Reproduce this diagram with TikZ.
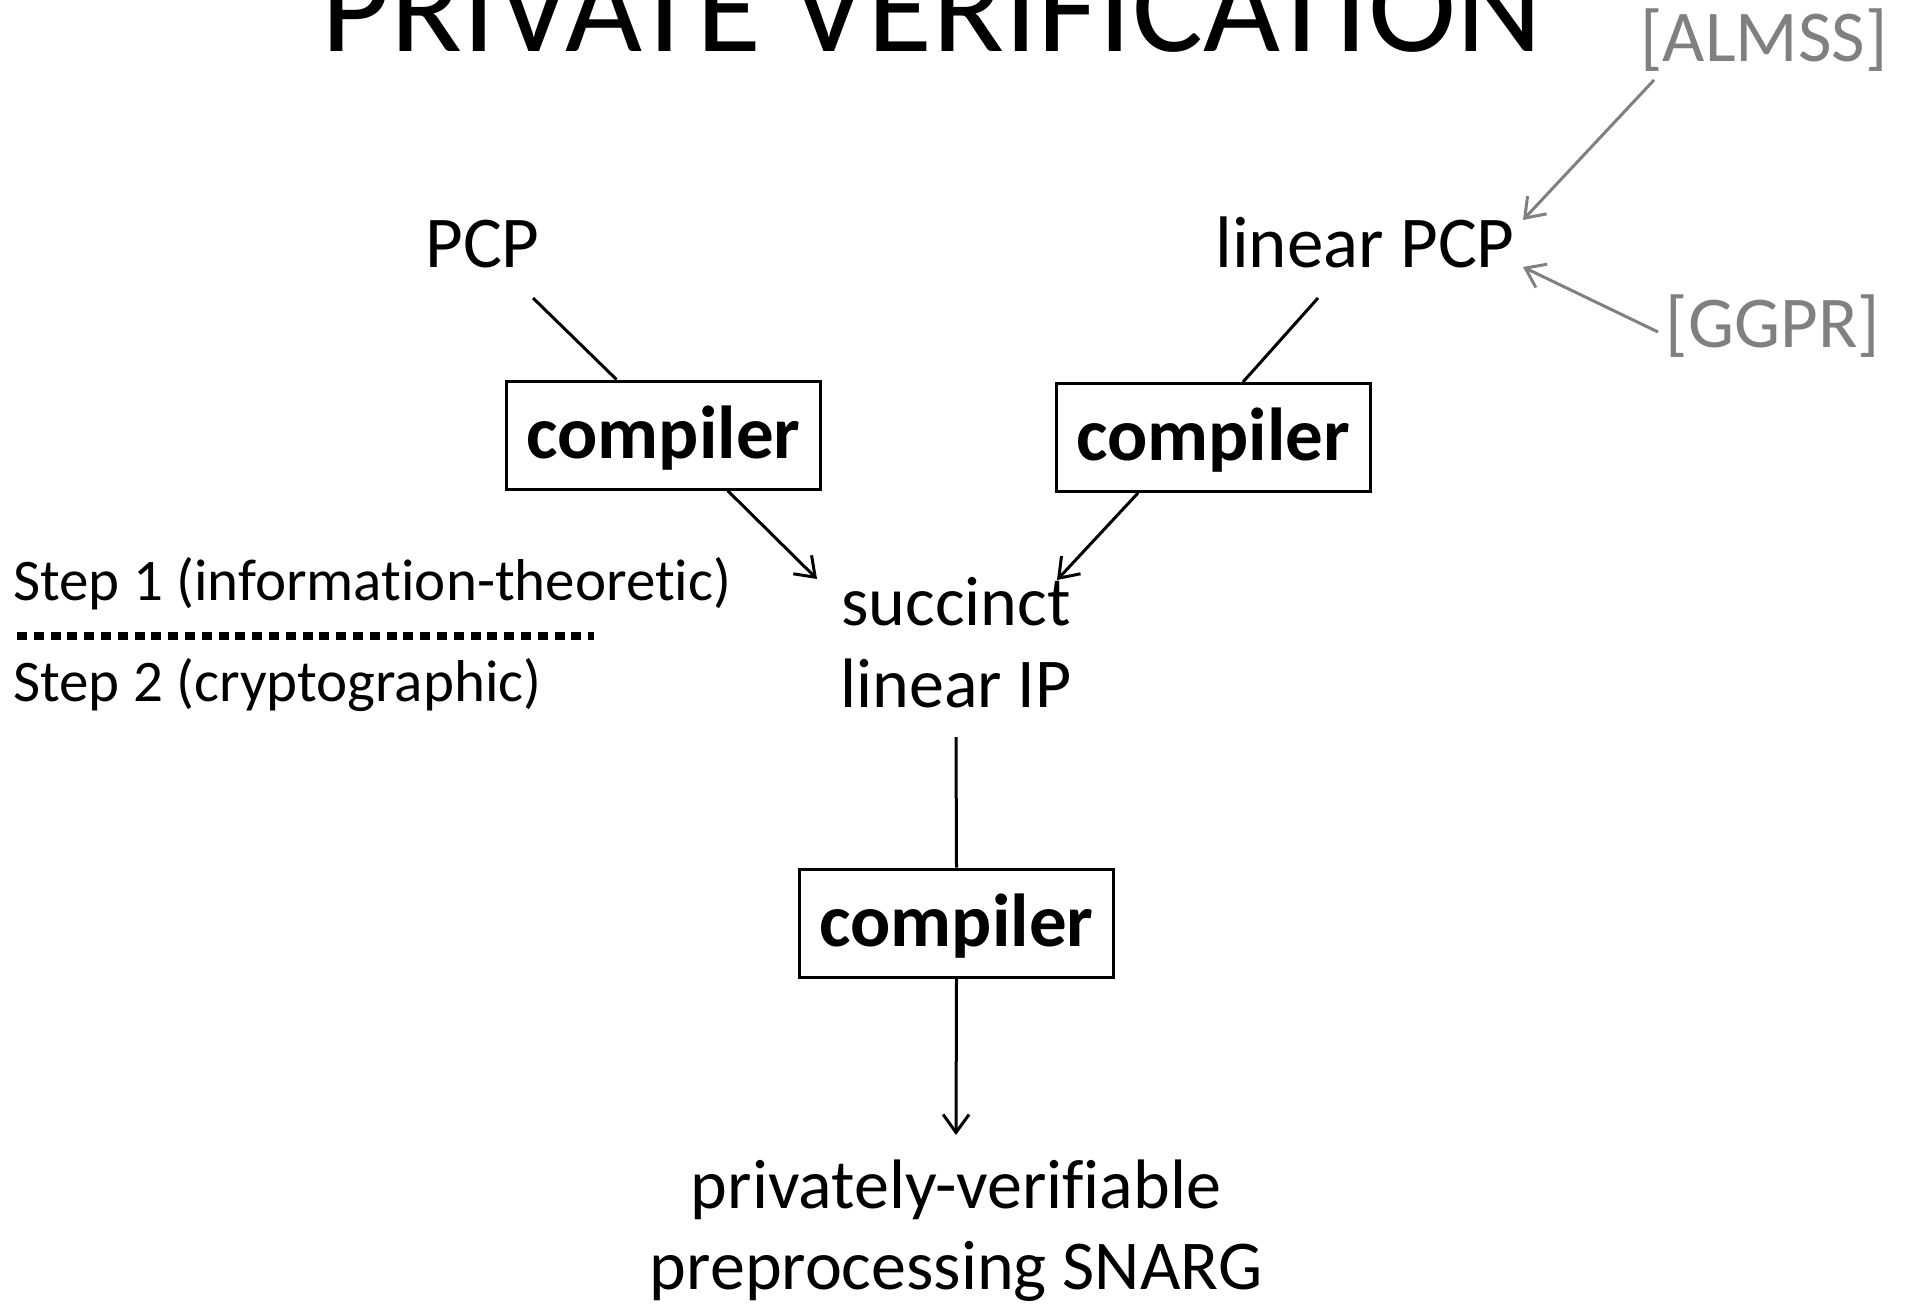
\documentclass[tikz,border=0pt]{standalone}
\usepackage{fontspec}
\setmainfont{Carlito}[Ligatures=NoCommon]
\usetikzlibrary{arrows.meta}
\definecolor{refgray}{RGB}{128,128,128}
\begin{document}
\begin{tikzpicture}[x=1pt,y=-1pt,
  txt/.style={inner sep=0pt, anchor=base, font=\fontsize{70}{84}\selectfont},
  bigtxt/.style={txt, font=\fontsize{73}{88}\selectfont},
  titletxt/.style={inner sep=0pt, anchor=base, font=\fontsize{133}{160}\selectfont},
  steptxt/.style={inner sep=0pt, anchor=base west, font=\fontsize{59}{70}\selectfont},
  reftxt/.style={bigtxt, text=refgray},
  compbox/.style={draw, line width=3pt, minimum width=314pt, minimum height=108pt,
    inner sep=0pt, text height=56pt, text depth=10pt,
    font=\fontsize{75}{90}\bfseries\selectfont},
  link/.style={line width=3pt},
  arr/.style={line width=3pt, -{Straight Barb[length=18pt,width=26pt]}},
  refarr/.style={arr, draw=refgray},
  sepline/.style={line width=8pt, dash pattern=on 10pt off 6.8pt}
]
\useasboundingbox (0,0) rectangle (1910,1305);

% heading and references
\node[titletxt] (title) at (932,52) {PRIVATE VERIFICATION};
\node[reftxt] (almss) at (1764,62) {[ALMSS]};
\node[reftxt] (ggpr) at (1773,347) {[GGPR]};

% sources
\node[bigtxt] (pcp) at (482.5,268) {PCP};
\node[bigtxt] (lpcp) at (1365,268) {linear PCP};

% compilers
\node[compbox] (box1) at (663.5,435) {compiler};
\node[compbox] (box2) at (1213,437.5) {compiler};
\node[compbox] (box3) at (956.5,923) {compiler};

% intermediate and final objects
\node[txt] (s1) at (956,625) {succinct};
\node[txt] (s2) at (956,707) {linear IP};
\node[txt] (out1) at (956,1208) {privately-verifiable};
\node[txt] (out2) at (956,1289) {preprocessing SNARG};

% step labels and separator
\node[steptxt] (step1) at (13,600) {Step 1 (information-theoretic)};
\node[steptxt] (step2) at (13,701) {Step 2 (cryptographic)};
\coordinate (sepL) at (17,636);
\coordinate (sepR) at (594,636);
\draw[sepline] (sepL) -- (sepR);

% connectors
\draw[link] ([xshift=50.5pt,yshift=-30pt]pcp.base) -- ([xshift=-47pt]box1.north);
\draw[arr] ([xshift=64pt]box1.south) -- ([xshift=-139pt,yshift=46pt]s1.base);
\draw[link] ([xshift=-47pt,yshift=-30pt]lpcp.base) -- ([xshift=30pt]box2.north);
\draw[arr] ([xshift=-75pt]box2.south) -- ([xshift=101pt,yshift=45pt]s1.base);
\draw[link] ([yshift=-30pt]s2.base) -- (box3.north);
\draw[arr] (box3.south) -- ([yshift=73pt]out1.base);

% references
\draw[refarr] ([xshift=-110pt,yshift=-18pt]almss.base) -- ([xshift=158pt,yshift=48pt]lpcp.base);
\draw[refarr] ([xshift=-115pt,yshift=15pt]ggpr.base) -- ([xshift=158pt,yshift=1pt]lpcp.base);
\end{tikzpicture}
\end{document}
